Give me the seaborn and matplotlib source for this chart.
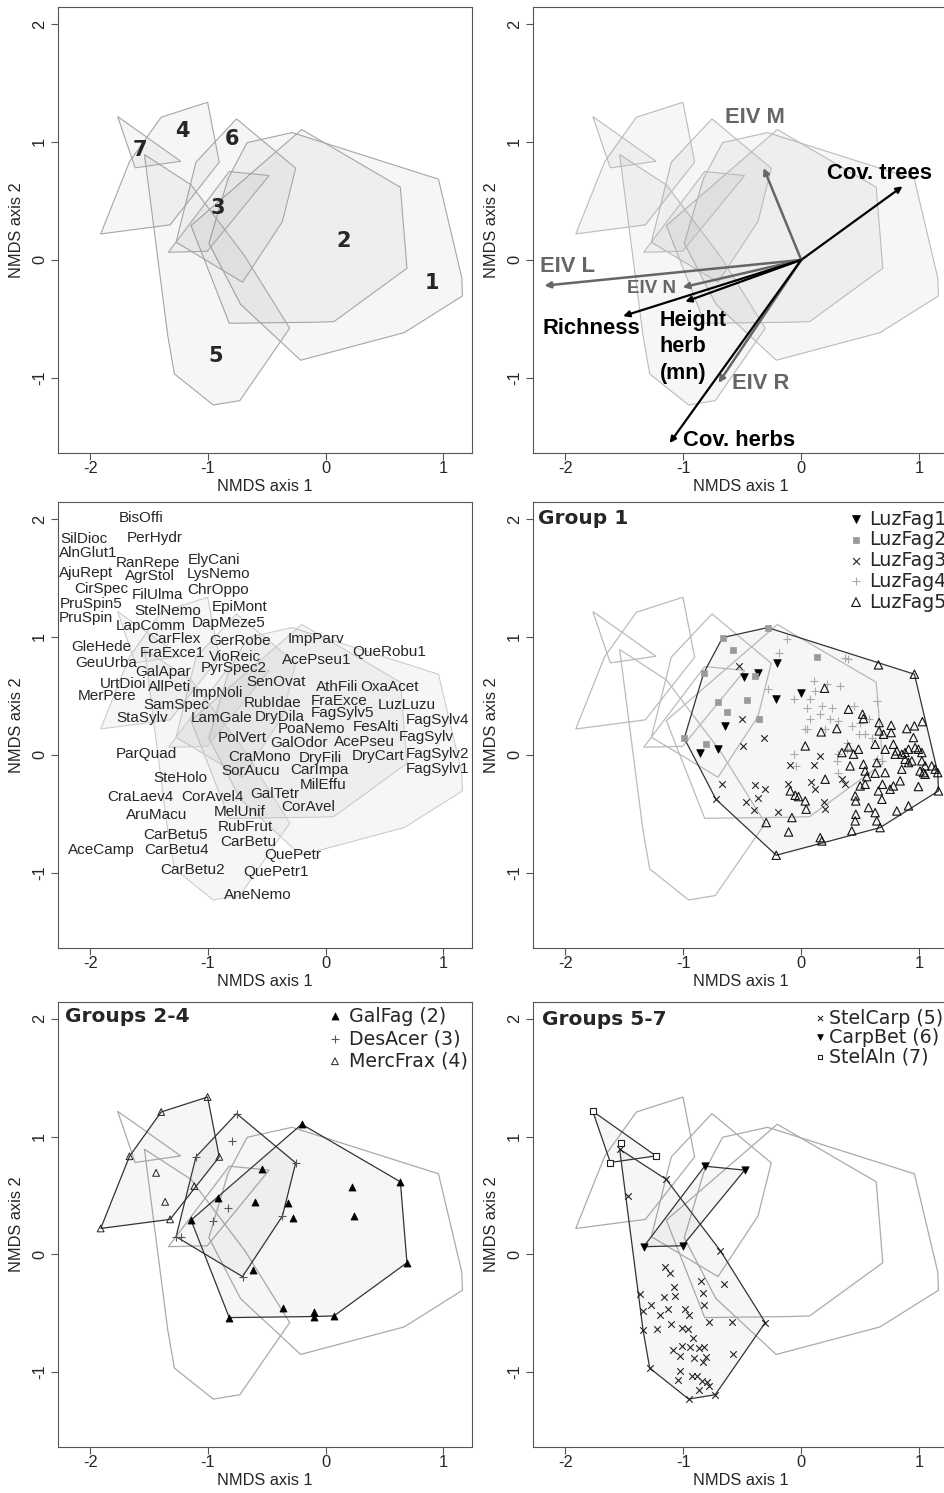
import numpy as np
import matplotlib
matplotlib.use("Agg")
import matplotlib.pyplot as plt
import seaborn as sns

# ---- site scores per vegetation type (NMDS axis 1 / axis 2) ----
luz1_x = [-0.206, -0.483, -0.370, -0.003, -0.218, -0.644, -0.862, -0.709]
luz1_y = [0.782, 0.664, 0.698, 0.523, 0.472, 0.246, 0.020, 0.054]

luz2_x = [-0.667, -0.285, -0.582, -0.828, -0.395, -0.706, -0.460, -0.633, -0.359, -0.992, -0.805, 0.133]
luz2_y = [0.994, 1.079, 0.890, 0.692, 0.669, 0.449, 0.469, 0.362, 0.305, 0.141, 0.093, 0.831]

luz3_x = [-0.525, -0.500, -0.314, -0.497, -0.099, -0.672, -0.723, -0.390, -0.305, -0.370, -0.466,
          -0.404, -0.116, -0.201, 0.161, 0.107, 0.085, 0.119, 0.203, 0.345, 0.373, 0.189]
luz3_y = [0.754, 0.308, 0.141, 0.073, -0.085, -0.249, -0.376, -0.257, -0.291, -0.362, -0.398,
          -0.466, -0.249, -0.483, -0.008, -0.085, -0.226, -0.291, -0.455, -0.206, -0.249, -0.398]

luz4_x = [-0.121, -0.192, -0.285, -0.065, 0.048, 0.048, -0.065, -0.042, 0.373, 0.401, 0.105, 0.218,
          0.331, 0.119, 0.076, 0.175, 0.260, 0.444, 0.641, 0.161, 0.076, 0.246, 0.316, 0.034, 0.203,
          0.429, 0.500, 0.571, 0.486, 0.542, 0.599, 0.387, 0.316, 0.302, 0.641, 0.387, 0.316, 0.684]
luz4_y = [0.980, 0.867, 0.556, 0.472, 0.401, 0.218, 0.006, -0.093, 0.825, 0.816, 0.627, 0.599,
          0.585, 0.542, 0.472, 0.415, 0.401, 0.415, 0.458, 0.345, 0.302, 0.302, 0.288, 0.218, 0.218,
          0.246, 0.274, 0.302, 0.175, 0.175, 0.147, 0.105, 0.006, -0.051, -0.037, 0.048, -0.150, -0.051]

luz5_x = [0.655, 0.960, 0.198, 0.401, 0.520, 0.528, 0.661, 0.763, 0.895, 0.960, 1.028, 0.302, 0.169,
          0.661, 0.698, 0.763, 0.952, 0.627, 0.712, 0.782, 0.811, 0.401, 0.345, 0.444, 0.486, 0.797,
          0.853, 0.881, 0.910, 0.966, 0.994, 1.023, 0.881, 0.910, 0.938, 0.853, 1.023, 1.051, 1.107,
          1.136, 1.158, 1.008, 1.037, 1.051, 0.415, 0.528, 0.641, 0.542, 0.627, 0.712, 0.556, 0.203,
          0.542, 0.689, 0.754, 0.782, 0.839, 0.500, 0.458, 0.655, 0.684, 0.463, 0.571, 0.627, 0.811,
          0.910, 0.994, 1.164, 0.463, 0.458, 0.429, 0.641, 0.669, 0.161, 0.175, 0.034, -0.093, -0.051,
          -0.023, 0.034, 0.042, -0.079, -0.297, -0.107, -0.212]
luz5_y = [0.763, 0.684, 0.565, 0.387, 0.345, 0.308, 0.274, 0.251, 0.223, 0.246, 0.282, 0.223, 0.195,
          0.203, 0.175, 0.189, 0.147, 0.090, 0.048, 0.090, 0.034, 0.068, 0.020, 0.006, 0.048, 0.006,
          0.006, 0.020, 0.048, 0.062, 0.048, 0.020, -0.037, -0.065, -0.051, -0.121, -0.051, -0.093,
          -0.093, -0.121, -0.150, -0.136, -0.150, -0.164, -0.093, -0.079, -0.065, -0.136, -0.155,
          -0.150, -0.184, -0.206, -0.249, -0.249, -0.291, -0.263, -0.220, -0.263, -0.347, -0.305,
          -0.376, -0.390, -0.446, -0.489, -0.475, -0.432, -0.268, -0.305, -0.503, -0.559, -0.644,
          -0.559, -0.616, -0.701, -0.729, 0.076, -0.305, -0.342, -0.353, -0.390, -0.460, -0.531,
          -0.573, -0.653, -0.850]

galfag_x = [-0.203, 0.636, 0.226, 0.240, 0.692, 0.071, -0.099, -0.099, -0.362, -0.819, -0.616,
            -1.144, -0.918, -0.537, -0.599, -0.316, -0.274]
galfag_y = [1.105, 0.616, 0.573, 0.325, -0.071, -0.523, -0.486, -0.528, -0.458, -0.537, -0.133,
            0.291, 0.475, 0.729, 0.441, 0.432, 0.305]

desacer_x = [-0.757, -0.799, -1.102, -0.254, -0.833, -0.960, -0.367, -1.271, -1.229, -0.706]
desacer_y = [1.195, 0.963, 0.828, 0.777, 0.390, 0.285, 0.325, 0.150, 0.144, -0.189]

mercfrax_x = [-1.003, -1.398, -1.667, -0.904, -1.441, -1.116, -1.364, -1.322, -1.912]
mercfrax_y = [1.336, 1.209, 0.833, 0.828, 0.692, 0.579, 0.446, 0.297, 0.220]

stelcarp_x = [-1.144, -1.472, -0.686, -1.153, -1.110, -0.850, -0.658, -1.076, -0.833, -1.364, -1.161,
              -1.073, -0.828, -1.274, -1.342, -1.127, -1.195, -0.983, -0.955, -0.305, -0.588, -0.780,
              -1.342, -1.223, -1.105, -1.011, -0.963, -0.918, -1.011, -1.088, -0.941, -0.870, -0.828,
              -1.025, -0.912, -0.833, -0.805, -0.579, -1.285, -1.025, -1.048, -0.927, -0.884, -0.842,
              -0.799, -0.870, -0.785, -0.729, -0.955, -1.540]
stelcarp_y = [0.636, 0.497, 0.031, -0.110, -0.161, -0.226, -0.254, -0.280, -0.331, -0.339, -0.359,
              -0.350, -0.429, -0.429, -0.477, -0.463, -0.514, -0.466, -0.514, -0.579, -0.576, -0.576,
              -0.641, -0.636, -0.593, -0.627, -0.636, -0.712, -0.777, -0.816, -0.788, -0.797, -0.788,
              -0.862, -0.881, -0.910, -0.873, -0.845, -0.966, -0.994, -1.071, -1.031, -1.037, -1.079,
              -1.088, -1.155, -1.121, -1.192, -1.229, 0.893]

carpbet_x = [-0.819, -0.480, -1.336, -1.006]
carpbet_y = [0.749, 0.715, 0.065, 0.073]

stelaln_x = [-1.768, -1.528, -1.619, -1.232]
stelaln_y = [1.215, 0.946, 0.780, 0.836]

# group number labels in the first panel
group_ids = ["1", "2", "3", "4", "5", "6", "7"]
group_lab_x = [0.904, 0.155, -0.918, -1.215, -0.938, -0.797, -1.576]
group_lab_y = [-0.198, 0.164, 0.439, 1.091, -0.816, 1.025, 0.929]

# fitted environmental vectors
env_names = ["Cov. trees", "EIV M", "EIV L", "EIV N", "Height\nherb\n(mn)", "Richness", "EIV R", "Cov. herbs"]
env_x = [0.859, -0.319, -2.178, -1.006, -0.983, -1.511, -0.701, -1.116]
env_y = [0.623, 0.779, -0.218, -0.232, -0.354, -0.476, -1.042, -1.552]
env_lab_x = [0.661, -0.390, -1.986, -1.271, -1.201, -1.780, -0.347, -0.525]
env_lab_y = [0.728, 1.204, -0.057, -0.241, -0.737, -0.581, -1.048, -1.530]
env_is_eiv = [False, True, True, True, False, False, True, False]

# species scores
species = ["BisOffi", "SilDioc", "PerHydr", "AlnGlut1", "RanRepe", "ElyCani", "AjuRept", "AgrStol",
           "LysNemo", "CirSpec", "FilUlma", "ChrOppo", "PruSpin5", "StelNemo", "EpiMont", "PruSpin",
           "LapComm", "DapMeze5", "GleHede", "CarFlex", "GerRobe", "ImpParv", "QueRobu1", "GeuUrba",
           "FraExce1", "VioReic", "AcePseu1", "GalApar", "PyrSpec2", "UrtDioi", "AllPeti", "SenOvat",
           "AthFili", "OxaAcet", "MerPere", "ImpNoli", "SamSpec", "RubIdae", "FraExce", "LuzLuzu",
           "StaSylv", "LamGale", "DryDila", "FagSylv5", "FagSylv4", "PoaNemo", "FesAlti", "FagSylv",
           "PolVert", "GalOdor", "AcePseu", "ParQuad", "CraMono", "DryFili", "DryCart", "FagSylv2",
           "SteHolo", "SorAucu", "CarImpa", "FagSylv1", "MilEffu", "CraLaev4", "CorAvel4", "GalTetr",
           "CorAvel", "AruMacu", "MelUnif", "RubFrut", "CarBetu5", "CarBetu", "AceCamp", "CarBetu4",
           "QuePetr", "CarBetu2", "QuePetr1", "AneNemo"]
sp_x = [-1.568, -2.056, -1.455, -2.020, -1.511, -0.946, -2.034, -1.492, -0.910, -1.907, -1.427, -0.912,
        -1.992, -1.342, -0.734, -2.034, -1.483, -0.825, -1.907, -1.285, -0.729, -0.085, 0.537, -1.864,
        -1.299, -0.768, -0.079, -1.384, -0.782, -1.723, -1.328, -0.418, 0.099, 0.542, -1.859, -0.918,
        -1.271, -0.446, 0.113, 0.692, -1.559, -0.884, -0.390, 0.141, 0.955, -0.119, 0.424, 0.853,
        -0.706, -0.226, 0.333, -1.525, -0.559, -0.042, 0.446, 0.955, -1.234, -0.636, -0.051, 0.955,
        -0.023, -1.576, -0.966, -0.429, -0.147, -1.435, -0.734, -0.686, -1.277, -0.655, -1.907, -1.271,
        -0.277, -1.130, -0.424, -0.579]
sp_y = [2.006, 1.828, 1.836, 1.709, 1.630, 1.653, 1.540, 1.517, 1.537, 1.410, 1.356, 1.395,
        1.282, 1.220, 1.257, 1.158, 1.093, 1.121, 0.918, 0.980, 0.966, 0.980, 0.873, 0.782,
        0.862, 0.833, 0.805, 0.703, 0.734, 0.599, 0.579, 0.619, 0.576, 0.579, 0.500, 0.523,
        0.424, 0.438, 0.458, 0.424, 0.316, 0.311, 0.322, 0.353, 0.297, 0.218, 0.237, 0.155,
        0.147, 0.105, 0.110, 0.006, -0.014, -0.023, -0.008, 0.011, -0.192, -0.136, -0.130, -0.121,
        -0.254, -0.356, -0.356, -0.328, -0.441, -0.511, -0.480, -0.610, -0.681, -0.734, -0.808, -0.808,
        -0.850, -0.977, -0.992, -1.186]

# groups -> member sites
groups = {
    1: (luz1_x + luz2_x + luz3_x + luz4_x + luz5_x, luz1_y + luz2_y + luz3_y + luz4_y + luz5_y),
    2: (galfag_x, galfag_y),
    3: (desacer_x, desacer_y),
    4: (mercfrax_x, mercfrax_y),
    5: (stelcarp_x, stelcarp_y),
    6: (carpbet_x, carpbet_y),
    7: (stelaln_x, stelaln_y),
}


def convex_hull(xs, ys):
    pts = sorted(set(zip(xs, ys)))

    def cross(o, a, b):
        return (a[0] - o[0]) * (b[1] - o[1]) - (a[1] - o[1]) * (b[0] - o[0])

    lower, upper = [], []
    for p in pts:
        while len(lower) >= 2 and cross(lower[-2], lower[-1], p) <= 0:
            lower.pop()
        lower.append(p)
    for p in reversed(pts):
        while len(upper) >= 2 and cross(upper[-2], upper[-1], p) <= 0:
            upper.pop()
        upper.append(p)
    return np.array(lower[:-1] + upper[:-1])


hulls = {g: convex_hull(*groups[g]) for g in groups}

FILL = (0.5, 0.5, 0.5, 0.065)
SANS = ["Liberation Sans", "DejaVu Sans"]
VERD = ["DejaVu Sans"]

sns.set_style("white")
plt.rcParams["font.family"] = SANS
plt.rcParams["axes.unicode_minus"] = False

fig = plt.figure(figsize=(9.45, 14.93), dpi=100)
W, H = 945.0, 1493.0
cols = [(58, 414), (533, 415)]
rows = [(7, 446), (502, 446), (1002, 445)]
axes = []
for (top, h) in rows:
    for (left, w) in cols:
        axes.append(fig.add_axes([left / W, 1 - (top + h) / H, w / W, h / H]))


def style_axes(ax):
    ax.set_xlim(-2.275, 1.245)
    ax.set_ylim(-1.636, 2.143)
    ax.set_xticks([-2, -1, 0, 1])
    ax.set_yticks([-1, 0, 1, 2])
    ax.tick_params(direction="out", length=5, width=0.8, color="#555555",
                   labelsize=11.8, pad=1, left=True, bottom=True)
    ax.tick_params(axis="y", pad=3)
    for lab in ax.get_yticklabels():
        lab.set_rotation(90)
        lab.set_va("center")
    for s in ax.spines.values():
        s.set_color("#555555")
        s.set_linewidth(0.8)
    ax.set_xlabel("NMDS axis 1", fontsize=11.8, labelpad=2)
    ax.set_ylabel("NMDS axis 2", fontsize=11.8, labelpad=6)
    ax.grid(False)


def draw_hulls(ax, filled, edge_filled, outline_color, lw=0.8):
    for g, hv in hulls.items():
        if g in filled:
            continue
        ax.fill(hv[:, 0], hv[:, 1], facecolor="none", edgecolor=outline_color, lw=lw, zorder=1)
    for g in filled:
        hv = hulls[g]
        ax.fill(hv[:, 0], hv[:, 1], facecolor=FILL, edgecolor=edge_filled, lw=lw, zorder=2)


def legend_rows(ax, x_mark, x_text, y0, dy, entries):
    for i, (lab, kw) in enumerate(entries):
        y = y0 - i * dy
        ax.scatter([x_mark], [y], transform=ax.transAxes, clip_on=False, zorder=6, **kw)
        ax.text(x_text, y, lab, transform=ax.transAxes, ha="left", va="center",
                fontsize=13.7, family=VERD, clip_on=False)


def title(ax, x, y, txt):
    ax.text(x, y, txt, transform=ax.transAxes, ha="left", va="center",
            fontsize=14.5, fontweight="bold", family=VERD)


# ---- panel 1: hulls with group numbers ----
ax = axes[0]
draw_hulls(ax, list(groups), "#a6a6a6", "#a6a6a6")
for gid, gx, gy in zip(group_ids, group_lab_x, group_lab_y):
    ax.text(gx, gy, gid, ha="center", va="center", fontsize=15, fontweight="bold", family=VERD)
style_axes(ax)

# ---- panel 2: hulls with environmental vectors ----
ax = axes[1]
draw_hulls(ax, list(groups), "#bbbbbb", "#bbbbbb")
for name, ex, ey, lx, ly, eiv in zip(env_names, env_x, env_y, env_lab_x, env_lab_y, env_is_eiv):
    col = "#666666" if eiv else "black"
    ax.annotate("", xy=(ex, ey), xytext=(0, 0),
                arrowprops=dict(arrowstyle="-|>", color=col, lw=1.8 if eiv else 1.6,
                                mutation_scale=9, shrinkA=0, shrinkB=0), zorder=4)
    if "\n" in name:
        ax.text(lx, ly, name, ha="left", va="center", fontsize=15.5, fontweight="bold",
                color=col, linespacing=1.32, zorder=5)
    else:
        fs = 13.5 if name == "EIV N" else 15.8
        ax.text(lx, ly, name, ha="center", va="center", fontsize=fs, fontweight="bold",
                color=col, zorder=5)
style_axes(ax)

# ---- panel 3: species scores ----
ax = axes[2]
draw_hulls(ax, list(groups), "#cccccc", "#cccccc")
for name, sx, sy in zip(species, sp_x, sp_y):
    ax.text(sx, sy, name, ha="center", va="center", fontsize=11, clip_on=True, zorder=5)
style_axes(ax)

# ---- panel 4: group 1 ----
ax = axes[3]
draw_hulls(ax, [1], "#333333", "#bbbbbb", lw=0.9)
luz_styles = [
    ("LuzFag1", luz1_x, luz1_y, dict(marker="v", s=30, color="black", edgecolor="black", linewidth=0.5)),
    ("LuzFag2", luz2_x, luz2_y, dict(marker="s", s=20, color="#9a9a9a", edgecolor="#9a9a9a", linewidth=0.5)),
    ("LuzFag3", luz3_x, luz3_y, dict(marker="x", s=22, color="#222222", linewidth=0.8)),
    ("LuzFag4", luz4_x, luz4_y, dict(marker="+", s=34, color="#aaaaaa", linewidth=0.8)),
    ("LuzFag5", luz5_x, luz5_y, dict(marker="^", s=36, facecolor="none", edgecolor="#111111", linewidth=0.8)),
]
for lab, xs, ys, kw in luz_styles:
    sns.scatterplot(x=xs, y=ys, ax=ax, zorder=3, legend=False, **kw)
legend_rows(ax, 0.7783, 0.8096, 0.9612, 0.0464,
            [(lab, dict(kw, s=kw["s"] * 1.1)) for lab, _, _, kw in luz_styles])
title(ax, 0.011, 0.962, "Group 1")
style_axes(ax)

# ---- panel 5: groups 2-4 ----
ax = axes[4]
draw_hulls(ax, [2, 3, 4], "#333333", "#aaaaaa", lw=0.9)
g24_styles = [
    ("GalFag (2)", galfag_x, galfag_y, dict(marker="^", s=26, color="black", edgecolor="black", linewidth=0.5)),
    ("DesAcer (3)", desacer_x, desacer_y, dict(marker="+", s=36, color="#555555", linewidth=0.8)),
    ("MercFrax (4)", mercfrax_x, mercfrax_y, dict(marker="^", s=24, facecolor="none", edgecolor="#222222", linewidth=0.7)),
]
for lab, xs, ys, kw in g24_styles:
    sns.scatterplot(x=xs, y=ys, ax=ax, zorder=3, legend=False, **kw)
legend_rows(ax, 0.669, 0.703, 0.9685, 0.0508, [(lab, kw) for lab, _, _, kw in g24_styles])
title(ax, 0.017, 0.967, "Groups 2-4")
style_axes(ax)

# ---- panel 6: groups 5-7 ----
ax = axes[5]
draw_hulls(ax, [5, 6, 7], "#333333", "#aaaaaa", lw=0.9)
g57_styles = [
    ("StelCarp (5)", stelcarp_x, stelcarp_y, dict(marker="x", s=22, color="#222222", linewidth=0.8)),
    ("CarpBet (6)", carpbet_x, carpbet_y, dict(marker="v", s=28, color="black", edgecolor="black", linewidth=0.5)),
    ("StelAln (7)", stelaln_x, stelaln_y, dict(marker="s", s=18, facecolor="white", edgecolor="#222222", linewidth=0.8)),
]
for lab, xs, ys, kw in g57_styles:
    sns.scatterplot(x=xs, y=ys, ax=ax, zorder=3, legend=False, **kw)
legend_rows(ax, 0.6916, 0.714, 0.9634, 0.0431,
            [(lab, dict(kw, s=kw["s"] * 0.6)) for lab, _, _, kw in g57_styles])
title(ax, 0.021, 0.961, "Groups 5-7")
style_axes(ax)

fig.savefig("out.png", dpi=100)
